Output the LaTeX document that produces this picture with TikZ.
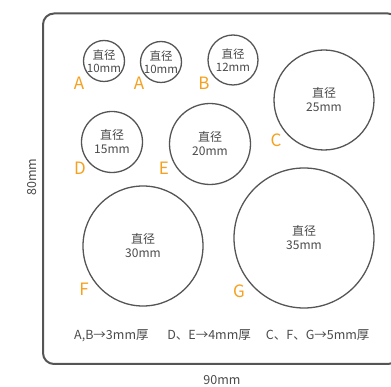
\documentclass[tikz,border=0pt]{standalone}
\usepackage{fontspec}
\setmainfont{Noto Sans CJK SC}
\definecolor{ln}{HTML}{555555}
\definecolor{tx}{HTML}{4A4A4A}
\definecolor{lab}{HTML}{F5A01E}
\tikzset{
  disc/.style={draw=ln, line width=1.3pt, circle, inner sep=0pt, text=tx, align=center, font=\fontsize{11.5}{12.5}\selectfont},
  lbl/.style={text=lab, inner sep=0pt, font=\fontsize{17}{17}\selectfont},
  dim/.style={text=tx, inner sep=0pt, font=\fontsize{12.5}{14}\selectfont}
}
\begin{document}
\begin{tikzpicture}[x=1pt,y=-1pt]
\useasboundingbox (0,0) rectangle (391,387);
\begin{scope}
\clip (0,0) rectangle (391,387);
\draw[ln, line width=2pt, rounded corners=11pt] (43,13.5) rectangle (399,364);
\end{scope}
\node[disc, minimum size=41pt] (a1) at (104,61) {直径\\10mm};
\node[disc, minimum size=41pt] (a2) at (161,62) {直径\\10mm};
\node[disc, minimum size=50pt] (b) at (233,60) {直径\\12mm};
\node[disc, minimum size=100pt, font=\fontsize{12}{14}\selectfont] (c) at (324,100) {直径\\25mm};
\node[disc, minimum size=61pt, font=\fontsize{12}{14}\selectfont] (d) at (112,142) {直径\\15mm};
\node[disc, minimum size=81pt, font=\fontsize{12}{14}\selectfont] (e) at (210,144) {直径\\20mm};
\node[disc, minimum size=120pt, font=\fontsize{12}{14}\selectfont] (f) at (143,246) {直径\\30mm};
\node[disc, minimum size=140pt, font=\fontsize{12}{14}\selectfont] (g) at (304,238) {直径\\35mm};
\node[lbl] (la1) at (79,83) {A};
\node[lbl] (la2) at (139,83) {A};
\node[lbl] (lb) at (204,83) {B};
\node[lbl] (lc) at (276,140) {C};
\node[lbl] (ld) at (80,168) {D};
\node[lbl] (le) at (164,168) {E};
\node[lbl] (lf) at (84,289) {F};
\node[lbl] (lg) at (239,291) {G};
\node[dim, anchor=west] (note) at (74,336) {A,B→3mm厚\hspace{1.5em}D、E→4mm厚\hspace{1.2em}C、F、G→5mm厚};
\node[dim] (w) at (222,380) {90mm};
\node[dim, rotate=90] (h) at (32,177) {80mm};
\end{tikzpicture}
\end{document}
